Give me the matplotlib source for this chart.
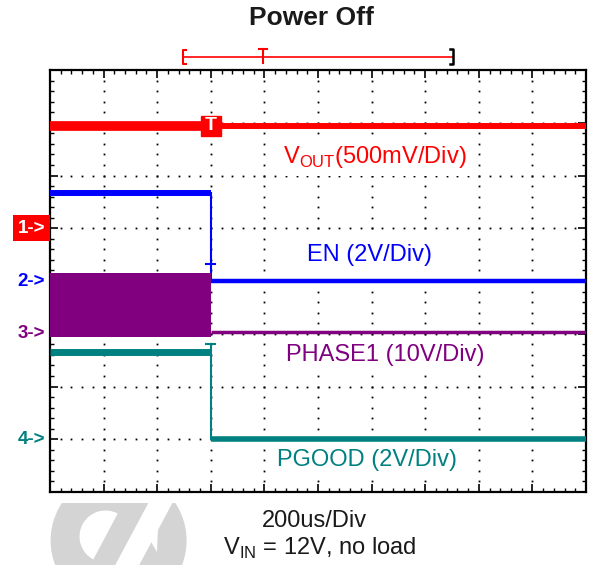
import numpy as np
import matplotlib.pyplot as plt
from matplotlib.patches import Circle, Polygon, Wedge, Rectangle

plt.rcParams["font.family"] = ["Liberation Sans", "DejaVu Sans"]
plt.rcParams["mathtext.fontset"] = "custom"
plt.rcParams["mathtext.rm"] = "Liberation Sans"

# screen: 10 x 8 divisions, 200us/div, trigger at t = 0
time_window_us = [-600, 1400]
us_per_div = 200
n_vdiv = 8
trigger_us = 0

# trace levels in divisions (before trigger, after trigger)
vout_level = [6.94, 6.94]
en_level = [5.67, 4.00]
phase_burst = [2.94, 4.15]  # switching band before trigger
phase_level_after = 3.03
pgood_level = [2.65, 1.00]
trig_marks = [4.32, 2.81]  # small trigger ticks on EN and PGOOD

ref_levels = [5.0, 4.0, 3.0, 1.0]
ref_labels = ["1->", "2->", "3->", "4->"]

colors = ["#ff0000", "#0000ff", "#800080", "#008080"]
trace_labels = [
    "V$_{\\mathrm{OUT}}$(500mV/Div)",
    "EN (2V/Div)",
    "PHASE1 (10V/Div)",
    "PGOOD (2V/Div)",
]
label_x_us = [269, 359, 281, 247]
label_y_div = [6.35, 4.49, 2.60, 0.61]

record_bar_us = [-104, 195, 904]  # start, trigger, end of record bar

fig = plt.figure(figsize=(5.94, 5.65), dpi=100)

# watermark logo behind everything (figure pixel coords)
bg = fig.add_axes([0, 0, 1, 1], zorder=-1)
bg.set_xlim(0, 594)
bg.set_ylim(565, 0)
bg.axis("off")
clip = Rectangle((0, 503), 594, 70, transform=bg.transData)
logo = Circle((118.6, 540.5), 68, color="#d4d4d4", lw=0)
bg.add_patch(logo)
logo.set_clip_path(clip)
band = Polygon([(150, 500), (174, 500), (136, 571), (112, 571)], color="white", lw=0)
bg.add_patch(band)
band.set_clip_path(clip)
half = Wedge((105.5, 536.5), 26, 118, 298, color="white", lw=0)
bg.add_patch(half)
notch = Polygon([(146, 533), (158, 526), (157, 552)], color="white", lw=0)
bg.add_patch(notch)

ax = fig.add_axes([50 / 594, 73 / 565, 536 / 594, 422 / 565])
ax.set_xlim(*time_window_us)
ax.set_ylim(0, n_vdiv)
ax.set_xticks(np.arange(time_window_us[0], time_window_us[1] + 1, us_per_div))
ax.set_xticks(np.arange(time_window_us[0], time_window_us[1] + 1, us_per_div / 5), minor=True)
ax.set_yticks(np.arange(0, n_vdiv + 1, 1))
ax.set_yticks(np.arange(0, n_vdiv + 0.01, 0.2), minor=True)
ax.tick_params(which="both", direction="in", top=True, right=True,
               labelbottom=False, labelleft=False, color="k")
ax.tick_params(which="major", length=6, width=1.2)
ax.tick_params(which="minor", length=3, width=1.0)
for s in ax.spines.values():
    s.set_linewidth(1.6)

# dotted graticule
x_fine = np.arange(time_window_us[0], time_window_us[1] + 1, us_per_div / 5)[1:-1]
y_fine = np.arange(0, n_vdiv + 0.01, 0.2)[1:-1]
for y in range(1, n_vdiv):
    ax.plot(x_fine, np.full(len(x_fine), y), "s", ms=1.3, color="k", mew=0, zorder=1)
for x in range(time_window_us[0] + us_per_div, time_window_us[1], us_per_div):
    ax.plot(np.full(len(y_fine), x), y_fine, "s", ms=1.3, color="k", mew=0, zorder=1)

t0, t1 = time_window_us
# VOUT
ax.plot([t0, trigger_us], [vout_level[0]] * 2, color=colors[0], lw=7, solid_capstyle="butt", zorder=3)
ax.plot([trigger_us, t1], [vout_level[1]] * 2, color=colors[0], lw=4.3, solid_capstyle="butt", zorder=3)
# EN
ax.plot([t0, trigger_us], [en_level[0]] * 2, color=colors[1], lw=4.3, solid_capstyle="butt", zorder=3)
ax.plot([trigger_us, trigger_us], en_level, color=colors[1], lw=1.5, zorder=3)
ax.plot([trigger_us, t1], [en_level[1]] * 2, color=colors[1], lw=3.2, solid_capstyle="butt", zorder=3)
ax.plot([trigger_us - 17, trigger_us + 17], [trig_marks[0]] * 2, color=colors[1], lw=1.5, zorder=3)
# PHASE1
ax.fill_between([t0, trigger_us], phase_burst[0], phase_burst[1], color=colors[2], lw=0, zorder=3)
ax.plot([trigger_us, t1], [phase_level_after] * 2, color=colors[2], lw=2.5, solid_capstyle="butt", zorder=3)
# PGOOD
ax.plot([t0, trigger_us], [pgood_level[0]] * 2, color=colors[3], lw=5, solid_capstyle="butt", zorder=3)
ax.plot([trigger_us, trigger_us], [trig_marks[1], pgood_level[1]], color=colors[3], lw=1.5, zorder=3)
ax.plot([trigger_us, t1], [pgood_level[1]] * 2, color=colors[3], lw=4, solid_capstyle="butt", zorder=3)
ax.plot([trigger_us - 17, trigger_us + 17], [trig_marks[1]] * 2, color=colors[3], lw=1.5, zorder=3)

# trigger marker on VOUT
ax.plot(trigger_us, vout_level[0], "s", ms=15, color=colors[0], zorder=5)
ax.text(trigger_us, vout_level[0], "T", color="white", fontsize=14, fontweight="bold",
        ha="center", va="center", zorder=6)

# trace labels (white backing hides the graticule dots)
for lbl, x, y, c in zip(trace_labels, label_x_us, label_y_div, colors):
    ax.text(x, y, lbl, color=c, fontsize=17, ha="left", va="center", zorder=2,
            bbox=dict(boxstyle="square,pad=0.25", fc="white", ec="none"))

# channel reference markers
ytr = ax.get_yaxis_transform()
for i, (lvl, lbl, c) in enumerate(zip(ref_levels, ref_labels, colors)):
    if i == 0:
        ax.text(-0.0093, lvl, lbl, transform=ytr, color="white", fontsize=13.5,
                fontweight="bold", ha="right", va="center", clip_on=False,
                bbox=dict(boxstyle="square,pad=0.25", fc=c, ec="none"))
    else:
        ax.text(-0.0093, lvl, lbl, transform=ytr, color=c, fontsize=13.5,
                fontweight="bold", ha="right", va="center", clip_on=False)

# record bar above the screen
bs, bt, be = record_bar_us
yb = 8.25
ax.plot([bs, be], [yb, yb], color="#ff0000", lw=1.2, clip_on=False)
ax.plot([bs + 12, bs, bs, bs + 12], [8.38, 8.38, 8.12, 8.12], color="#ff0000", lw=1.5, clip_on=False)
ax.plot([bt, bt], [8.13, 8.39], color="#ff0000", lw=1.5, clip_on=False)
ax.plot([bt - 16, bt + 16], [8.39, 8.39], color="#ff0000", lw=1.5, clip_on=False)
ax.plot([be - 12, be, be, be - 12], [8.39, 8.39, 8.11, 8.11], color="k", lw=1.8, clip_on=False)

fig.text(311 / 594, 1 - 18 / 565, "Power Off", fontsize=19, fontweight="bold",
         ha="center", va="center", color="#1a1a1a")
fig.text(314 / 594, 1 - 521 / 565, "200us/Div", fontsize=17, ha="center", va="center", color="#1a1a1a")
fig.text(320 / 594, 1 - 548 / 565, "V$_{\\mathrm{IN}}$ = 12V, no load", fontsize=17,
         ha="center", va="center", color="#1a1a1a")

fig.savefig("out.png", dpi=100)
